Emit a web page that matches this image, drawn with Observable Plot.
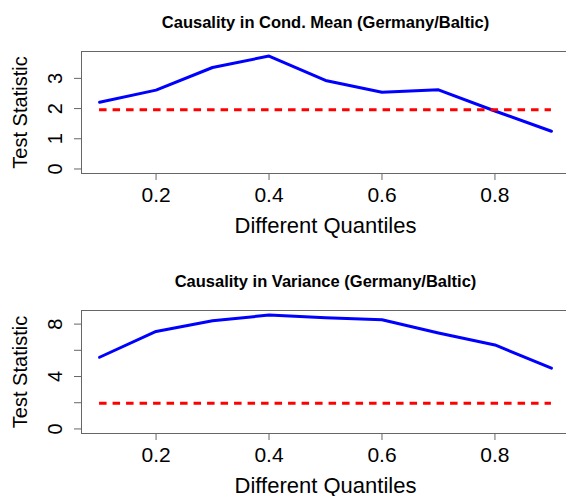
<!DOCTYPE html>
<html>
<head>
<meta charset="utf-8">
<script src="https://cdn.jsdelivr.net/npm/d3@7"></script>
<script src="https://cdn.jsdelivr.net/npm/@observablehq/plot@0.6"></script>
<style>
  html, body { margin: 0; padding: 0; background: #fff; }
  #chart { width: 566px; height: 496px; overflow: hidden; }
  #chart svg { display: block; }
</style>
</head>
<body>
<div id="chart"></div>
<script>
// Quantile levels and the causality test statistics at each level
const quantiles = [0.1, 0.2, 0.3, 0.4, 0.5, 0.6, 0.7, 0.8, 0.9];
const meanStat = [2.21, 2.61, 3.36, 3.74, 2.93, 2.54, 2.62, 1.92, 1.25];
const varianceStat = [5.47, 7.44, 8.25, 8.69, 8.48, 8.33, 7.32, 6.41, 4.64];
const criticalValue = 1.96;

// Axis ticks and labels
const xTicks = [0.2, 0.4, 0.6, 0.8];
const meanTicks = [0, 1, 2, 3];
const meanTickLabels = ["0", "1", "2", "3"];
const varianceTicks = [0, 2, 4, 6, 8];
const varianceTickLabels = ["0", "", "4", "", "8"];

const titles = ["Causality in Cond. Mean (Germany/Baltic)", "Causality in Variance (Germany/Baltic)"];
const xLabel = "Different Quantiles";
const yLabel = "Test Statistic";

const FONT = "'Liberation Sans', Arial, Helvetica, sans-serif";
const FRAME = "#666";

function panel({values, ticks, tickLabels, title, height, marginTop, marginBottom}) {
  const rows = quantiles.map((q, i) => ({q, v: values[i]}));
  // 4% padding on each side of the data range, as in base R graphics
  const xPad = 0.04 * (d3.max(quantiles) - d3.min(quantiles));
  const yMax = d3.max(values);
  const yPad = 0.04 * yMax;
  const labelled = ticks.map((t, i) => ({t, label: tickLabels[i]})).filter(d => d.label !== "");

  return Plot.plot({
    width: 569,
    height,
    marginLeft: 81,
    marginRight: 0,
    marginTop,
    marginBottom,
    style: {maxWidth: "none", fontFamily: FONT, background: "white", color: "#000"},
    x: {domain: [d3.min(quantiles) - xPad, d3.max(quantiles) + xPad]},
    y: {domain: [-yPad, yMax + yPad]},
    marks: [
      Plot.frame({stroke: FRAME, strokeWidth: 1}),
      Plot.axisX(xTicks, {
        tickSize: 7, tickPadding: 7, fontSize: 21, stroke: FRAME,
        label: null, tickFormat: d => String(d)
      }),
      Plot.axisY(ticks, {tickSize: 7, stroke: FRAME, label: null, tickFormat: () => ""}),
      Plot.text(labelled, {
        y: "t", text: "label", frameAnchor: "left", dx: -26,
        rotate: -90, fontSize: 20, textAnchor: "middle", lineAnchor: "middle"
      }),
      Plot.lineY(rows, {x: "q", y: "v", stroke: "#0000ff", strokeWidth: 3}),
      Plot.ruleY([criticalValue], {
        x1: d3.min(quantiles), x2: d3.max(quantiles),
        stroke: "#ff0000", strokeWidth: 3, strokeDasharray: "7.5,6"
      }),
      Plot.text([title], {
        text: d => d, frameAnchor: "top", dy: -24, lineAnchor: "bottom",
        textAnchor: "middle", fontWeight: "bold", fontSize: 16.5
      }),
      Plot.text([xLabel], {
        text: d => d, frameAnchor: "bottom", dy: 59, lineAnchor: "bottom",
        textAnchor: "middle", fontSize: 22
      }),
      Plot.text([yLabel], {
        text: d => d, frameAnchor: "left", dx: -61, rotate: -90,
        textAnchor: "middle", lineAnchor: "middle", fontSize: 20
      })
    ]
  });
}

const chart = document.getElementById("chart");
chart.append(panel({
  values: meanStat, ticks: meanTicks, tickLabels: meanTickLabels, title: titles[0],
  height: 248, marginTop: 51, marginBottom: 75
}));
chart.append(panel({
  values: varianceStat, ticks: varianceTicks, tickLabels: varianceTickLabels, title: titles[1],
  height: 248, marginTop: 62, marginBottom: 63
}));
</script>
</body>
</html>
